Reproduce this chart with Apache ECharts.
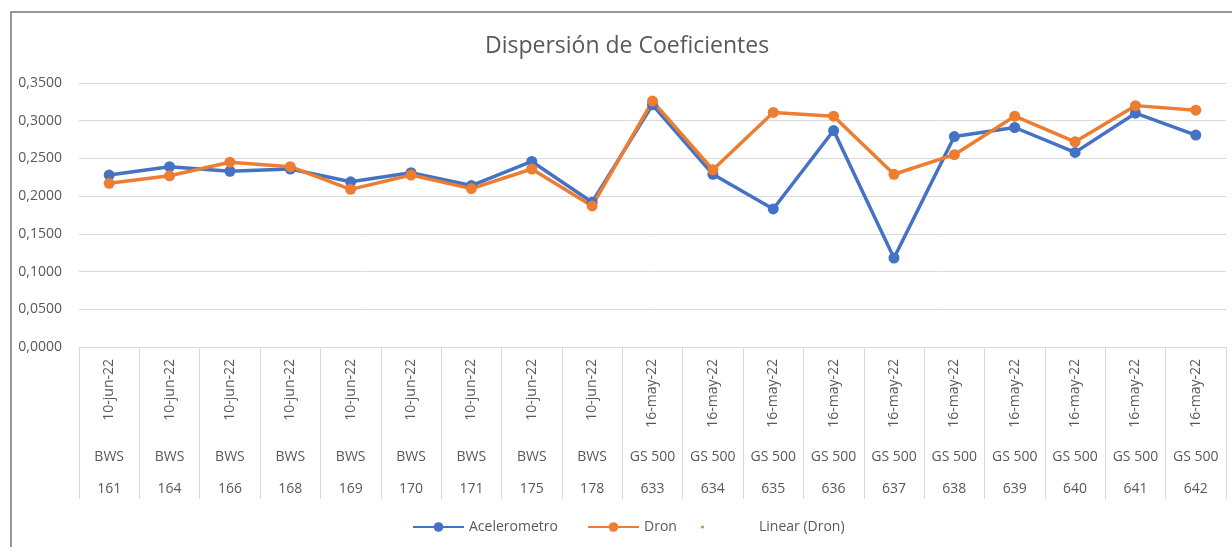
<!DOCTYPE html>
<html>
<head>
<meta charset="utf-8">
<script src="https://cdn.jsdelivr.net/npm/echarts@6/dist/echarts.min.js"></script>
<style>
  html, body { margin: 0; padding: 0; background: #fff; }
  #main { width: 1232px; height: 547px; }
</style>
</head>
<body>
<div id="main"></div>
<script>
// datos
var fechas = ['10-jun-22', '10-jun-22', '10-jun-22', '10-jun-22', '10-jun-22', '10-jun-22', '10-jun-22', '10-jun-22', '10-jun-22',
    '16-may-22', '16-may-22', '16-may-22', '16-may-22', '16-may-22', '16-may-22', '16-may-22', '16-may-22', '16-may-22', '16-may-22'];
var equipos = ['BWS', 'BWS', 'BWS', 'BWS', 'BWS', 'BWS', 'BWS', 'BWS', 'BWS',
    'GS 500', 'GS 500', 'GS 500', 'GS 500', 'GS 500', 'GS 500', 'GS 500', 'GS 500', 'GS 500', 'GS 500'];
var puntos = ['161', '164', '166', '168', '169', '170', '171', '175', '178',
    '633', '634', '635', '636', '637', '638', '639', '640', '641', '642'];

var acelerometro = [0.228, 0.239, 0.233, 0.236, 0.219, 0.231, 0.214, 0.246, 0.192,
    0.321, 0.229, 0.183, 0.287, 0.118, 0.279, 0.291, 0.258, 0.310, 0.281];
var dron = [0.217, 0.227, 0.245, 0.239, 0.209, 0.228, 0.210, 0.236, 0.187,
    0.326, 0.235, 0.311, 0.306, 0.229, 0.255, 0.306, 0.272, 0.320, 0.314];

var gris = '#595959';
var fuente = 'Open Sans';

var myChart = echarts.init(document.getElementById('main'));

function ejeX(datos, margen, extra) {
    var eje = {
        type: 'category',
        position: 'bottom',
        data: datos,
        boundaryGap: true,
        axisLine: { show: false },
        axisTick: { show: false },
        axisLabel: {
            interval: 0,
            margin: margen,
            color: gris,
            fontFamily: fuente,
            fontSize: 14
        },
        splitLine: { show: false }
    };
    if (extra) extra(eje);
    return eje;
}

myChart.setOption({
    animation: false,
    title: {
        text: 'Dispersión de Coeficientes',
        left: 480,
        top: 30,
        textStyle: { color: gris, fontFamily: fuente, fontSize: 23, fontWeight: 'normal' }
    },
    graphic: [{
        type: 'rect',
        shape: { x: 11, y: 12, width: 1240, height: 600 },
        style: { fill: 'none', stroke: '#767676', lineWidth: 1.5 },
        silent: true
    }],
    legend: [{
        left: 407, top: 515,
        itemWidth: 51, itemHeight: 12,
        textStyle: { color: gris, fontFamily: fuente, fontSize: 14 },
        data: ['Acelerometro']
    }, {
        left: 582, top: 515,
        itemWidth: 51, itemHeight: 12,
        textStyle: { color: gris, fontFamily: fuente, fontSize: 14 },
        data: ['Dron']
    }, {
        left: 696, top: 515,
        itemWidth: 3, itemHeight: 3,
        textStyle: { color: gris, fontFamily: fuente, fontSize: 14, padding: [0, 0, 0, 50] },
        data: [{ name: 'Linear (Dron)', icon: 'circle', itemStyle: { color: '#ED7D31' } }]
    }],
    grid: {
        left: 79,
        right: 6,
        top: 83,
        bottom: 200
    },
    xAxis: [
        ejeX(fechas, 12, function (e) {
            e.axisLine = { show: true, lineStyle: { color: '#d9d9d9', width: 1 } };
            e.axisTick = { show: true, length: 152, lineStyle: { color: '#d9d9d9', width: 1 } };
            e.axisLabel.rotate = 90;
        }),
        ejeX(equipos, 103),
        ejeX(puntos, 135)
    ],
    yAxis: {
        type: 'value',
        min: 0,
        max: 0.35,
        interval: 0.05,
        axisLine: { show: false },
        axisTick: { show: false },
        axisLabel: {
            margin: 17,
            color: gris,
            fontFamily: fuente,
            fontSize: 14,
            formatter: function (v) { return v.toFixed(4).replace('.', ','); }
        },
        splitLine: { lineStyle: { color: '#d9d9d9', width: 1 } }
    },
    series: [{
        name: 'Acelerometro',
        type: 'line',
        data: acelerometro,
        symbol: 'circle',
        symbolSize: 11,
        lineStyle: { color: '#4472C4', width: 3.5 },
        itemStyle: { color: '#4472C4' }
    }, {
        name: 'Dron',
        type: 'line',
        data: dron,
        symbol: 'circle',
        symbolSize: 11,
        lineStyle: { color: '#ED7D31', width: 3.5 },
        itemStyle: { color: '#ED7D31' }
    }, {
        name: 'Linear (Dron)',
        type: 'line',
        data: [],
        symbol: 'circle',
        itemStyle: { color: '#ED7D31' }
    }]
});
</script>
</body>
</html>
